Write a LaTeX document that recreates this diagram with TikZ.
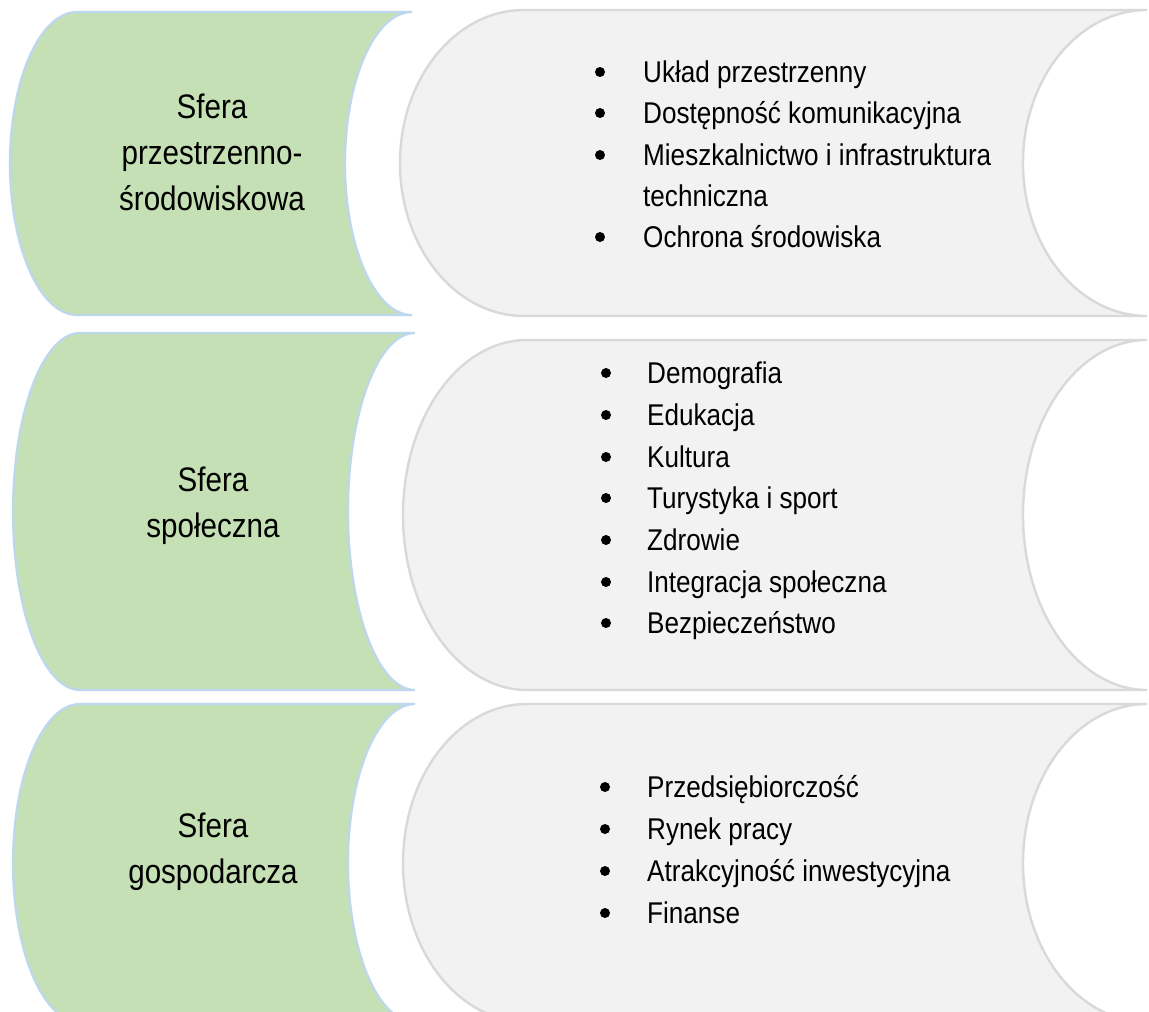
\documentclass[tikz,border=0pt]{standalone}
\usepackage{fontspec}
\setmainfont{Liberation Sans}
\newfontfamily\condfont[FakeStretch=0.87]{Liberation Sans}
\definecolor{greenfill}{HTML}{C5E0B4}
\definecolor{greenedge}{HTML}{BDD7EE}
\definecolor{grayfill}{HTML}{F2F2F2}
\definecolor{grayedge}{HTML}{D9D9D9}
% #1 style, #2 left, #3 right, #4 top, #5 bottom, #6 arc depth
\newcommand\storeshape[6]{%
  \pgfmathsetmacro\shpM{(#4+#5)/2}%
  \pgfmathsetmacro\shpH{(#5-#4)/2}%
  \pgfmathsetmacro\shpRc{#3-0.5523*#6}%
  \pgfmathsetmacro\shpRx{#3-#6}%
  \pgfmathsetmacro\shpLc{#2+#6}%
  \pgfmathsetmacro\shpLk{#2+#6-0.5523*#6}%
  \pgfmathsetmacro\shpUp{\shpM-0.5523*\shpH}%
  \pgfmathsetmacro\shpDn{\shpM+0.5523*\shpH}%
  \draw[#1] (\shpLc,#4) -- (#3,#4)
    .. controls (\shpRc,#4) and (\shpRx,\shpUp) .. (\shpRx,\shpM)
    .. controls (\shpRx,\shpDn) and (\shpRc,#5) .. (#3,#5)
    -- (\shpLc,#5)
    .. controls (\shpLk,#5) and (#2,\shpDn) .. (#2,\shpM)
    .. controls (#2,\shpUp) and (\shpLk,#4) .. (\shpLc,#4) -- cycle;%
}
\tikzset{
  sphere/.style={fill=greenfill, draw=greenedge, line width=2.2pt},
  topics/.style={fill=grayfill, draw=grayedge, line width=2.4pt},
  lbl/.style={align=center, inner sep=0pt, anchor=base, font=\condfont\fontsize{34}{46}\selectfont},
  item/.style={inner sep=0pt, anchor=base west, font=\condfont\fontsize{30}{36}\selectfont},
  bul/.style={circle, fill=black, inner sep=0pt, minimum size=10pt},
}
\begin{document}
\begin{tikzpicture}[x=1pt,y=-1pt]
\clip (0,0) rectangle (1149,1012);
\fill[white] (0,0) rectangle (1149,1012);
% row 1
\storeshape{sphere}{10}{412}{12}{315}{67}
\storeshape{topics}{400}{1147}{10}{316}{124}
% row 2
\storeshape{sphere}{13}{415}{333}{690}{67}
\storeshape{topics}{403}{1147}{340}{690}{124}
% row 3
\storeshape{sphere}{13}{415}{704}{1022}{67}
\storeshape{topics}{403}{1147}{704}{1022}{124}

% labels (anchor = baseline of last line)
\node[lbl] (s1) at (212,210) {Sfera\\przestrzenno-\\środowiskowa};
\node[lbl] (s2) at (213,537) {Sfera\\społeczna};
\node[lbl] (s3) at (213,883) {Sfera\\gospodarcza};

% row 1 items
\node[bul] (b11) at (600,72) {};
\node[item] (t11) at (643,82) {Układ przestrzenny};
\node[bul] (b12) at (600,113) {};
\node[item] (t12) at (643,123) {Dostępność komunikacyjna};
\node[bul] (b13) at (600,155) {};
\node[item] (t13) at (643,165) {Mieszkalnictwo i infrastruktura};
\node[item] (t13b) at (643,206) {techniczna};
\node[bul] (b14) at (600,237) {};
\node[item] (t14) at (643,247) {Ochrona środowiska};

% row 2 items
\node[bul] (b21) at (606,373) {};
\node[item] (t21) at (647,383) {Demografia};
\node[bul] (b22) at (606,415) {};
\node[item] (t22) at (647,425) {Edukacja};
\node[bul] (b23) at (606,457) {};
\node[item] (t23) at (647,467) {Kultura};
\node[bul] (b24) at (606,498) {};
\node[item] (t24) at (647,508) {Turystyka i sport};
\node[bul] (b25) at (606,540) {};
\node[item] (t25) at (647,550) {Zdrowie};
\node[bul] (b26) at (606,582) {};
\node[item] (t26) at (647,592) {Integracja społeczna};
\node[bul] (b27) at (606,623) {};
\node[item] (t27) at (647,633) {Bezpieczeństwo};

% row 3 items
\node[bul] (b31) at (605,787) {};
\node[item] (t31) at (647,797) {Przedsiębiorczość};
\node[bul] (b32) at (605,829) {};
\node[item] (t32) at (647,839) {Rynek pracy};
\node[bul] (b33) at (605,871) {};
\node[item] (t33) at (647,881) {Atrakcyjność inwestycyjna};
\node[bul] (b34) at (605,913) {};
\node[item] (t34) at (647,923) {Finanse};
\end{tikzpicture}
\end{document}
